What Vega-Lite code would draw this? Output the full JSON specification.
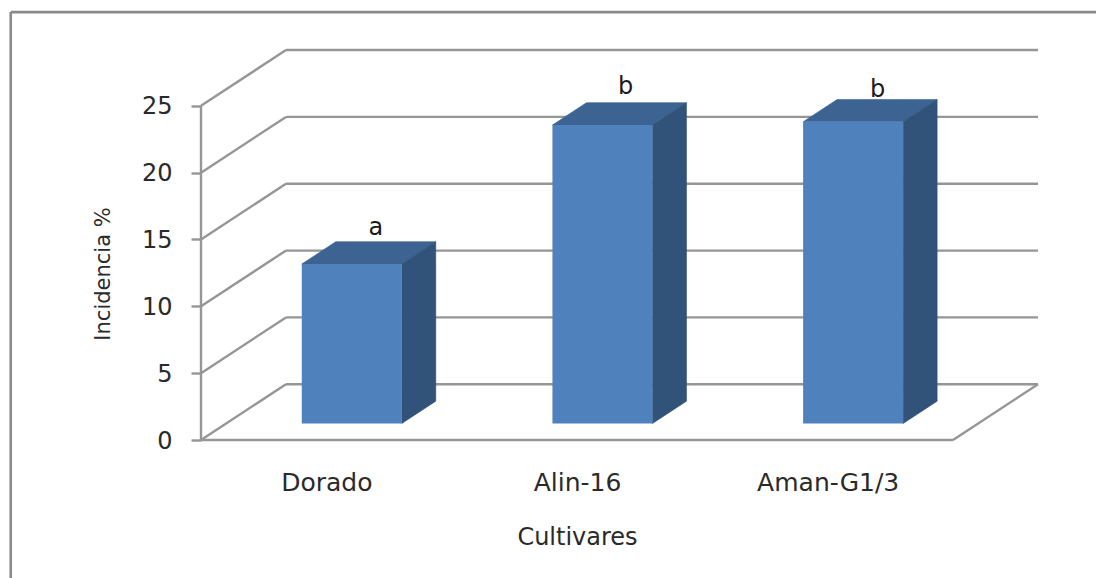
{
  "$schema": "https://vega.github.io/schema/vega-lite/v6.json",
  "width": 837,
  "height": 391,
  "autosize": "none",
  "padding": {"left": 201, "top": 49, "right": 58, "bottom": 138},
  "background": "white",
  "config": {
    "view": {"stroke": null},
    "text": {"font": "DejaVu Sans"},
    "axis": {"grid": false, "labelFont": "DejaVu Sans", "titleFont": "DejaVu Sans", "labelColor": "#2a2a2a", "titleColor": "#2a2a2a", "titleFontWeight": "normal"}
  },
  "params": [
    {"name": "fondoX", "value": 0.339},
    {"name": "fondoY", "value": 4.17},
    {"name": "profX", "value": 0.1356},
    {"name": "profY", "value": 1.675},
    {"name": "ancho", "value": 0.399},
    {"name": "base", "value": 1.23}
  ],
  "datasets": {
    "cultivares": [
      {"cultivar": "Dorado", "incidencia": 11.93, "letra": "a"},
      {"cultivar": "Alin-16", "incidencia": 22.33, "letra": "b"},
      {"cultivar": "Aman-G1/3", "incidencia": 22.57, "letra": "b"}
    ],
    "niveles": [
      {"nivel": 0}, {"nivel": 5}, {"nivel": 10}, {"nivel": 15}, {"nivel": 20}, {"nivel": 25}
    ],
    "unico": [{"elemento": "marco"}]
  },
  "layer": [
    {
      "description": "Back wall gridlines",
      "data": {"name": "niveles"},
      "transform": [
        {"calculate": "datum.nivel + fondoY", "as": "atras"},
        {"calculate": "fondoX", "as": "desde"},
        {"calculate": "fondoX + 3", "as": "hasta"}
      ],
      "mark": {"type": "rule", "stroke": "#969696", "strokeWidth": 2.4},
      "encoding": {
        "x": {"field": "desde", "type": "quantitative", "scale": {"domain": [0, 3.339], "nice": false, "zero": false}},
        "x2": {"field": "hasta"},
        "y": {"field": "atras", "type": "quantitative", "scale": {"domain": [0, 29.25], "nice": false, "zero": false}}
      }
    },
    {
      "description": "Side wall gridlines running from the front edge to the back wall",
      "data": {"name": "niveles"},
      "transform": [
        {"calculate": "datum.nivel + fondoY", "as": "atras"},
        {"calculate": "0", "as": "desde"},
        {"calculate": "fondoX", "as": "hasta"}
      ],
      "mark": {"type": "rule", "stroke": "#969696", "strokeWidth": 2.4},
      "encoding": {
        "x": {"field": "desde", "type": "quantitative"},
        "x2": {"field": "hasta"},
        "y": {"field": "nivel", "type": "quantitative"},
        "y2": {"field": "atras"}
      }
    },
    {
      "description": "Front edge of the floor",
      "data": {"name": "unico"},
      "mark": {"type": "rule", "stroke": "#969696", "strokeWidth": 2.4},
      "encoding": {
        "x": {"datum": 0, "type": "quantitative"},
        "x2": {"datum": 3},
        "y": {"datum": 0, "type": "quantitative"}
      }
    },
    {
      "description": "Right edge of the floor",
      "data": {"name": "unico"},
      "mark": {"type": "rule", "stroke": "#969696", "strokeWidth": 2.4},
      "encoding": {
        "x": {"datum": 3, "type": "quantitative"},
        "x2": {"datum": 3.339},
        "y": {"datum": 0, "type": "quantitative"},
        "y2": {"datum": 4.17}
      }
    },
    {
      "description": "Vertical front edge of the side wall",
      "data": {"name": "unico"},
      "mark": {"type": "rule", "stroke": "#969696", "strokeWidth": 2.4},
      "encoding": {
        "x": {"datum": 0, "type": "quantitative"},
        "y": {"datum": 0, "type": "quantitative"},
        "y2": {"datum": 25}
      }
    },
    {
      "description": "Outer chart border, left side",
      "data": {"name": "unico"},
      "mark": {"type": "rule", "stroke": "#8a8a8a", "strokeWidth": 2.6},
      "encoding": {
        "x": {"datum": -0.759, "type": "quantitative"},
        "y": {"datum": -10.4, "type": "quantitative"},
        "y2": {"datum": 32.01}
      }
    },
    {
      "description": "Outer chart border, top side",
      "data": {"name": "unico"},
      "mark": {"type": "rule", "stroke": "#8a8a8a", "strokeWidth": 2.6},
      "encoding": {
        "x": {"datum": -0.759, "type": "quantitative"},
        "x2": {"datum": 3.6},
        "y": {"datum": 32.01, "type": "quantitative"}
      }
    },
    {
      "description": "Top faces of the bars",
      "data": {"name": "cultivares"},
      "transform": [
        {"calculate": "indexof(['Dorado','Alin-16','Aman-G1/3'], datum.cultivar) + 0.402", "as": "izq"},
        {"calculate": "datum.incidencia + base", "as": "tope"},
        {"calculate": "[0,1,2,3]", "as": "esquina"},
        {"flatten": ["esquina"]},
        {"calculate": "datum.izq + [0, profX, ancho, ancho + profX][datum.esquina]", "as": "px"},
        {"calculate": "datum.tope + profY * [0,1,1,1][datum.esquina]", "as": "arriba"},
        {"calculate": "datum.tope + profY * [0,0,0,1][datum.esquina]", "as": "abajo"}
      ],
      "mark": {"type": "area", "fill": "#3c6391", "stroke": "#3c6391", "strokeWidth": 0.6, "orient": "vertical"},
      "encoding": {
        "x": {"field": "px", "type": "quantitative"},
        "y": {"field": "arriba", "type": "quantitative", "stack": null},
        "y2": {"field": "abajo"},
        "detail": {"field": "cultivar"}
      }
    },
    {
      "description": "Right side faces of the bars",
      "data": {"name": "cultivares"},
      "transform": [
        {"calculate": "indexof(['Dorado','Alin-16','Aman-G1/3'], datum.cultivar) + 0.402 + ancho", "as": "der"},
        {"calculate": "[0,1]", "as": "esquina"},
        {"flatten": ["esquina"]},
        {"calculate": "datum.der + profX * datum.esquina", "as": "px"},
        {"calculate": "datum.incidencia + base + profY * datum.esquina", "as": "arriba"},
        {"calculate": "base + profY * datum.esquina", "as": "abajo"}
      ],
      "mark": {"type": "area", "fill": "#315379", "stroke": "#315379", "strokeWidth": 0.6, "orient": "vertical"},
      "encoding": {
        "x": {"field": "px", "type": "quantitative"},
        "y": {"field": "arriba", "type": "quantitative", "stack": null},
        "y2": {"field": "abajo"},
        "detail": {"field": "cultivar"}
      }
    },
    {
      "description": "Front faces of the bars, carrying both axes",
      "data": {"name": "cultivares"},
      "transform": [
        {"calculate": "indexof(['Dorado','Alin-16','Aman-G1/3'], datum.cultivar) + 0.402", "as": "izq"},
        {"calculate": "datum.izq + ancho", "as": "der"},
        {"calculate": "base", "as": "pie"},
        {"calculate": "datum.incidencia + base", "as": "tope"}
      ],
      "mark": {"type": "rect", "fill": "#4f81bd"},
      "encoding": {
        "x": {
          "field": "izq", "type": "quantitative",
          "axis": {
            "values": [0.5, 1.5, 2.5],
            "labelExpr": "['Dorado','Alin-16','Aman-G1/3'][floor(datum.value)]",
            "domain": false, "ticks": false, "labelFontSize": 25, "labelPadding": 30, "labelBaseline": "top",
            "title": "Cultivares", "titleFontSize": 24, "titleX": 376, "titleY": 104, "titleBaseline": "alphabetic", "titleAlign": "center"
          }
        },
        "x2": {"field": "der"},
        "y": {
          "field": "pie", "type": "quantitative",
          "axis": {
            "values": [0, 5, 10, 15, 20, 25],
            "domain": false, "ticks": true, "tickSize": 10, "tickColor": "#969696", "tickWidth": 2.4,
            "labelFontSize": 24, "labelPadding": 19, "labelOffset": 1,
            "title": "Incidencia %", "titleFontSize": 21, "titleX": -92, "titleY": 224.5, "titleAngle": 270, "titleBaseline": "alphabetic", "titleAlign": "center"
          }
        },
        "y2": {"field": "tope"}
      }
    },
    {
      "description": "Significance letter over Dorado",
      "data": {"name": "cultivares"},
      "transform": [
        {"filter": "datum.cultivar === 'Dorado'"},
        {"calculate": "indexof(['Dorado','Alin-16','Aman-G1/3'], datum.cultivar) + 0.402 + ancho / 2 + 0.096", "as": "cx"},
        {"calculate": "datum.incidencia + base + profY", "as": "cy"}
      ],
      "mark": {"type": "text", "fontSize": 24, "color": "#1a1a1a", "baseline": "alphabetic", "align": "center", "dy": -7},
      "encoding": {
        "x": {"field": "cx", "type": "quantitative"},
        "y": {"field": "cy", "type": "quantitative"},
        "text": {"field": "letra"}
      }
    },
    {
      "description": "Significance letter over Alin-16",
      "data": {"name": "cultivares"},
      "transform": [
        {"filter": "datum.cultivar === 'Alin-16'"},
        {"calculate": "indexof(['Dorado','Alin-16','Aman-G1/3'], datum.cultivar) + 0.402 + ancho / 2 + 0.092", "as": "cx"},
        {"calculate": "datum.incidencia + base + profY", "as": "cy"}
      ],
      "mark": {"type": "text", "fontSize": 24, "color": "#1a1a1a", "baseline": "alphabetic", "align": "center", "dy": -9},
      "encoding": {
        "x": {"field": "cx", "type": "quantitative"},
        "y": {"field": "cy", "type": "quantitative"},
        "text": {"field": "letra"}
      }
    },
    {
      "description": "Significance letter over Aman-G1/3",
      "data": {"name": "cultivares"},
      "transform": [
        {"filter": "datum.cultivar === 'Aman-G1/3'"},
        {"calculate": "indexof(['Dorado','Alin-16','Aman-G1/3'], datum.cultivar) + 0.402 + ancho / 2 + 0.098", "as": "cx"},
        {"calculate": "datum.incidencia + base + profY", "as": "cy"}
      ],
      "mark": {"type": "text", "fontSize": 24, "color": "#1a1a1a", "baseline": "alphabetic", "align": "center", "dy": -2},
      "encoding": {
        "x": {"field": "cx", "type": "quantitative"},
        "y": {"field": "cy", "type": "quantitative"},
        "text": {"field": "letra"}
      }
    }
  ]
}
